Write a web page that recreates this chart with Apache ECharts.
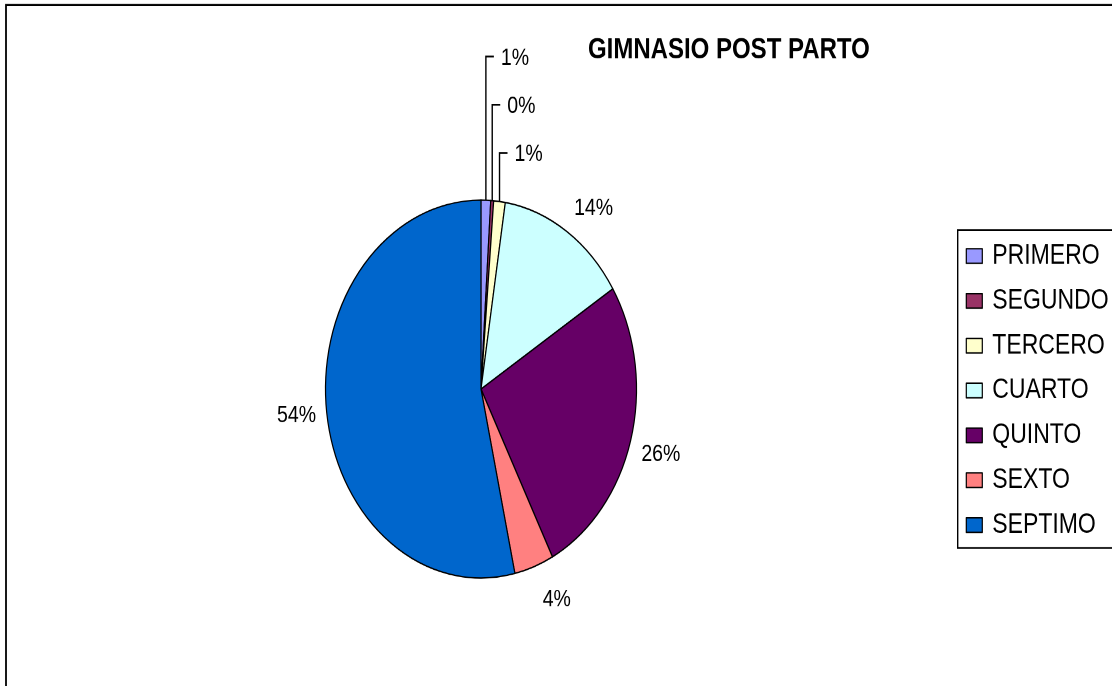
<!DOCTYPE html>
<html>
<head>
<meta charset="utf-8">
<title>GIMNASIO POST PARTO</title>
<script src="https://cdn.jsdelivr.net/npm/echarts@6/dist/echarts.min.js"></script>
<style>
  html, body { margin: 0; padding: 0; background: #fff; overflow: hidden; }
  #stage { width: 1112px; height: 686px; overflow: hidden; }
  /* the chart is laid out on a shorter, slightly wider sheet and stretched
     vertically, which turns the round pie into the tall ellipse of the
     printed chart; the legend frame then runs off the right of the view */
  #chart { width: 1200px; height: 565px; transform: scaleY(1.215); transform-origin: 0 0; }
</style>
</head>
<body>
<div id="stage"><div id="chart"></div></div>
<script>
// ---- data ----
const categories = ['PRIMERO', 'SEGUNDO', 'TERCERO', 'CUARTO', 'QUINTO', 'SEXTO', 'SEPTIMO'];
const shares = [1.0, 0.3, 1.2, 13.6, 26.3, 4.1, 53.5];   // percent of total
const titleText = 'GIMNASIO POST PARTO';

// ---- styling ----
const sliceColors = ['#9999FF', '#993366', '#FFFFCC', '#CCFFFF', '#660066', '#FF8080', '#0066CC'];
const labelGaps = [0, 0, 0, 13, 11.3, 21, 10];     // radial gap between rim and outside label
const labelSlide = [0, 0, 0, 12, 4.7, -12, -1.6];  // clockwise shift of outside label along the rim
const FONT = '"Liberation Sans", Arial, Helvetica, sans-serif';
const CX = 481, CY = 320.2, R = 155.5;
const LEGEND_BOX = { x: 957.7, y: 189.3, height: 261.7 };
const FAR = 3000;   // frames run past the right and bottom of the sheet

// mid angle of each slice, measured clockwise from 12 o'clock
const total = shares.reduce((s, v) => s + v, 0);
const midAngles = [];
(function () {
  let acc = 0;
  shares.forEach(v => {
    midAngles.push((acc + v / 2) / total * Math.PI * 2);
    acc += v;
  });
})();
// tiny slices get their labels stacked above the pie with elbow leaders
const stackedIdx = shares.map((v, i) => (v / total * 100 < 2 ? i : -1)).filter(i => i >= 0);

const chart = echarts.init(document.getElementById('chart'), null, { renderer: 'canvas', devicePixelRatio: 2 });

chart.setOption({
  animation: false,
  backgroundColor: '#fff',
  title: {
    text: titleText,
    left: 588,
    top: 29.2,
    padding: 0,
    textStyle: { fontFamily: FONT, fontWeight: 'bold', fontSize: 24, lineHeight: 24, color: '#000' }
  },
  legend: {
    orient: 'vertical',
    left: LEGEND_BOX.x,
    top: LEGEND_BOX.y,
    padding: [9.9, 0, 7.4, 8],
    itemGap: 13.9,
    itemWidth: 16,
    itemHeight: 12,
    icon: 'rect',
    selectedMode: false,
    itemStyle: { borderColor: '#000', borderWidth: 1.2 },
    textStyle: { fontFamily: FONT, fontSize: 23, lineHeight: 23, color: '#000', padding: [0, 0, 0, 5] },
    data: categories
  },
  graphic: [{
    // outer chart frame: only its top and left edges fall on the sheet
    type: 'polyline',
    silent: true,
    shape: { points: [[6, FAR], [6, 4.1], [FAR, 4.1]] },
    style: { fill: null, stroke: '#000', lineWidth: 1.8 }
  }, {
    // legend frame, open on the right where it leaves the sheet
    type: 'polyline',
    silent: true,
    shape: {
      points: [
        [FAR, LEGEND_BOX.y], [LEGEND_BOX.x, LEGEND_BOX.y],
        [LEGEND_BOX.x, LEGEND_BOX.y + LEGEND_BOX.height], [FAR, LEGEND_BOX.y + LEGEND_BOX.height]
      ]
    },
    style: { fill: null, stroke: '#000', lineWidth: 1.4 }
  }],
  series: [{
    type: 'pie',
    center: [CX, CY],
    radius: R,
    startAngle: 90,
    clockwise: true,
    avoidLabelOverlap: false,
    silent: true,
    emphasis: { disabled: true },
    itemStyle: { borderColor: '#000', borderWidth: 1.2 },
    label: {
      show: true,
      position: 'outside',
      fontFamily: FONT,
      fontSize: 19.5,
      color: '#000',
      formatter: p => Math.round(p.percent) + '%'
    },
    labelLine: { show: true, smooth: false, lineStyle: { color: '#000', width: 1.4 } },
    labelLayout: function (p) {
      const i = p.dataIndex;
      const a = midAngles[i];
      const dx = Math.sin(a), dy = -Math.cos(a);
      const ex = CX + R * dx, ey = CY + R * dy;
      const k = stackedIdx.indexOf(i);
      if (k >= 0) {
        const level = CY - R - 38.9 - (stackedIdx.length - 1 - k) * 39.65;
        return {
          x: ex + 15, y: level + 1.5, align: 'left', verticalAlign: 'middle',
          labelLinePoints: [[ex, ey], [ex, level], [ex + 8, level]]
        };
      }
      const w = p.labelRect.width, h = 16;
      const d = R + labelGaps[i] + Math.abs(dx) * w / 2 + Math.abs(dy) * h / 2;
      const tx = Math.cos(a), ty = Math.sin(a);
      return {
        x: CX + dx * d + tx * labelSlide[i],
        y: CY + dy * d + ty * labelSlide[i],
        align: 'center', verticalAlign: 'middle'
      };
    },
    data: categories.map((name, i) => ({
      name: name,
      value: shares[i],
      itemStyle: { color: sliceColors[i] },
      labelLine: { show: stackedIdx.indexOf(i) >= 0 }
    }))
  }]
});
</script>
</body>
</html>
